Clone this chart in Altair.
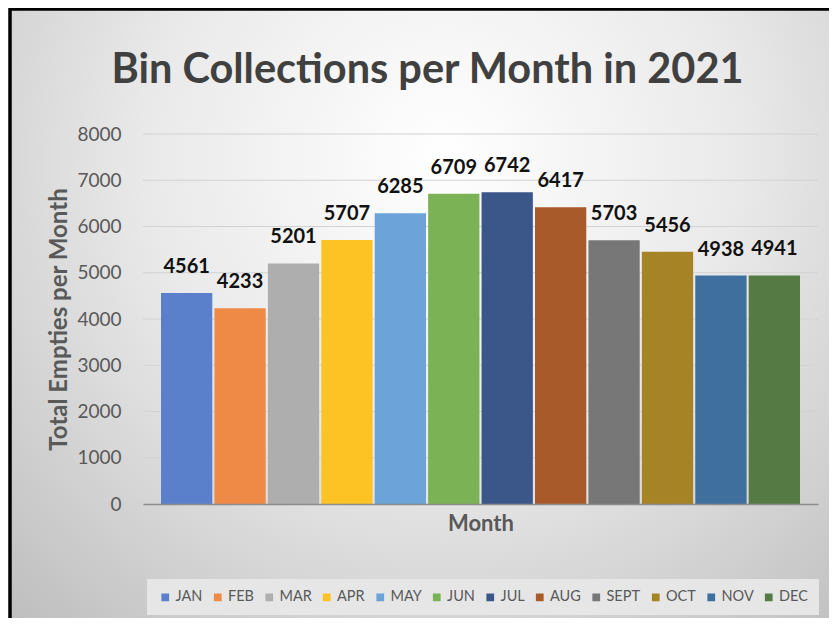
import altair as alt
import pandas as pd

months = ["JAN", "FEB", "MAR", "APR", "MAY", "JUN", "JUL", "AUG", "SEPT", "OCT", "NOV", "DEC"]
totals = [4561, 4233, 5201, 5707, 6285, 6709, 6742, 6417, 5703, 5456, 4938, 4941]
colors = ["#5A7FCB", "#EE8A46", "#AEAEAE", "#FDC223", "#6CA3D9", "#7BB256",
          "#3B5689", "#A85A2A", "#777777", "#A68325", "#3E6F9D", "#567A43"]
y_ticks = [0, 1000, 2000, 3000, 4000, 5000, 6000, 7000, 8000]
grid_lines = [1000, 2000, 3000, 4000, 5000, 6000, 7000, 8000]

df = pd.DataFrame({"Month": months, "Total": totals})
grid_df = pd.DataFrame({"Total": grid_lines})

W, H = 675, 370
FONT = "Lato"

y_scale = alt.Scale(domain=[0, 8000])
y_axis = alt.Axis(values=y_ticks, format="d", grid=False, domain=False, ticks=False,
                  labelPadding=22, labelFont=FONT, labelFontSize=19,
                  labelColor="#595959", title="Total Empties per Month",
                  titleFont=FONT, titleFontSize=24, titleFontWeight="bold",
                  titleColor="#595959", titlePadding=5, zindex=1)
x_enc = alt.X("Month:N", sort=months,
              scale=alt.Scale(paddingInner=0.04, paddingOuter=0.337),
              axis=alt.Axis(labels=False, ticks=False, domainColor="#8c8c8c",
                            domainWidth=1.5, title="Month", titleFont=FONT,
                            titleFontSize=22, titleFontWeight="bold",
                            titleColor="#595959", titlePadding=9, zindex=1))
y_enc = alt.Y("Total:Q", scale=y_scale, axis=y_axis)

bg = alt.Chart(alt.Data(values=[{"k": 1}])).mark_rect(
    fill=alt.Gradient(gradient="radial",
                      stops=[alt.GradientStop(color="#ffffff", offset=0),
                             alt.GradientStop(color="#e9e9e9", offset=0.45),
                             alt.GradientStop(color="#bababa", offset=1)],
                      x1=0.52, y1=0.3, r1=0, x2=0.52, y2=0.3, r2=0.8),
    stroke="#000000", strokeWidth=3.5
).encode(x=alt.value(-133), x2=alt.value(700), y=alt.value(-125), y2=alt.value(500))

grid = alt.Chart(grid_df).mark_rule(color="#d2d2d2", strokeWidth=1).encode(y=y_enc)

bars = alt.Chart(df).mark_bar().encode(
    x=x_enc, y=y_enc,
    color=alt.Color("Month:N", sort=months,
                    scale=alt.Scale(domain=months, range=colors),
                    legend=alt.Legend(orient="none", legendX=4, legendY=445,
                                      direction="horizontal", title=None,
                                      symbolType="square", symbolSize=60,
                                      symbolStrokeWidth=0, labelFont=FONT,
                                      labelFontSize=14.5, labelColor="#595959",
                                      labelOffset=3, columnPadding=7.5,
                                      padding=11, fillColor="#e6e6e6",
                                      zindex=1))
)

labels = alt.Chart(df).mark_text(font=FONT, fontSize=20, fontWeight="bold",
                                 color="#111111", baseline="alphabetic", dy=-20).encode(
    x=x_enc, y=y_enc, text=alt.Text("Total:Q", format="d"))

chart = alt.layer(bg, grid, bars, labels).properties(
    width=W, height=H,
    title=alt.TitleParams("Bin Collections per Month in 2021", font=FONT,
                          fontSize=41.5, fontWeight="bold", color="#404040",
                          anchor="middle", frame="group", dx=-53, offset=0,
                          baseline="alphabetic", dy=117, zindex=1),
    autosize=alt.AutoSizeParams(type="none"),
    padding={"left": 135, "top": 126, "right": 11, "bottom": 114},
).configure_view(stroke=None).configure(background="#ffffff")

chart.save("out.html", embed_options={"renderer": "svg", "actions": False})
